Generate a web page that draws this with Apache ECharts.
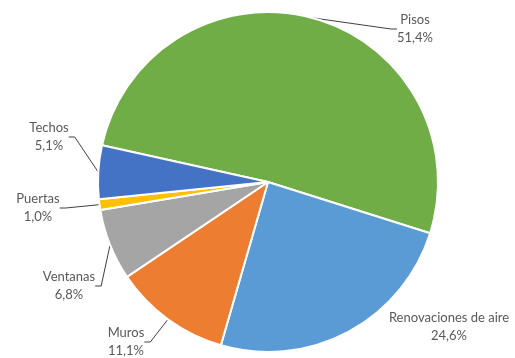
<!DOCTYPE html>
<html>
<head>
<meta charset="utf-8">
<script src="https://cdn.jsdelivr.net/npm/echarts@6/dist/echarts.min.js"></script>
<style>
  html, body { margin: 0; padding: 0; background: #ffffff; }
  #chart { width: 515px; height: 358px; }
</style>
</head>
<body>
<div id="chart"></div>
<script>
// Heat-loss shares by building element (percent)
const categories = ['Pisos', 'Renovaciones de aire', 'Muros', 'Ventanas', 'Puertas', 'Techos'];
const shares = [51.4, 24.6, 11.1, 6.8, 1.0, 5.1];
const sliceColors = ['#70AD47', '#5B9BD5', '#ED7D31', '#A5A5A5', '#FFC000', '#4472C4'];

// Where each outside label sits (label centre, px)
const labelSpots = {
  'Pisos': [415, 29],
  'Renovaciones de aire': [449, 327],
  'Muros': [126, 342],
  'Ventanas': [69, 286],
  'Puertas': [38, 208],
  'Techos': [49, 137]
};

const fmt = v => v.toFixed(1).replace('.', ',') + '%';

const chart = echarts.init(document.getElementById('chart'), null, { renderer: 'canvas' });

chart.setOption({
  animation: false,
  backgroundColor: '#ffffff',
  series: [{
    type: 'pie',
    center: [268, 182],
    radius: [0, 170],
    startAngle: 167.5,
    clockwise: true,
    avoidLabelOverlap: false,
    itemStyle: { borderColor: '#ffffff', borderWidth: 2 },
    label: {
      show: true,
      position: 'outside',
      fontFamily: 'Lato, "Liberation Sans", sans-serif',
      fontSize: 13,
      color: '#595959',
      lineHeight: 18,
      align: 'center',
      formatter: p => p.name + '\n' + fmt(p.value)
    },
    labelLine: {
      show: true,
      length: 10,
      length2: 6,
      lineStyle: { color: '#404040', width: 1 }
    },
    labelLayout: function (params) {
      const name = categories[params.dataIndex];
      const spot = labelSpots[name];
      return {
        x: spot[0],
        y: spot[1],
        align: 'center',
        verticalAlign: 'middle'
      };
    },
    data: categories.map((c, i) => ({
      name: c,
      value: shares[i],
      itemStyle: { color: sliceColors[i] },
      labelLine: { show: c !== 'Renovaciones de aire' }
    }))
  }]
});
</script>
</body>
</html>
